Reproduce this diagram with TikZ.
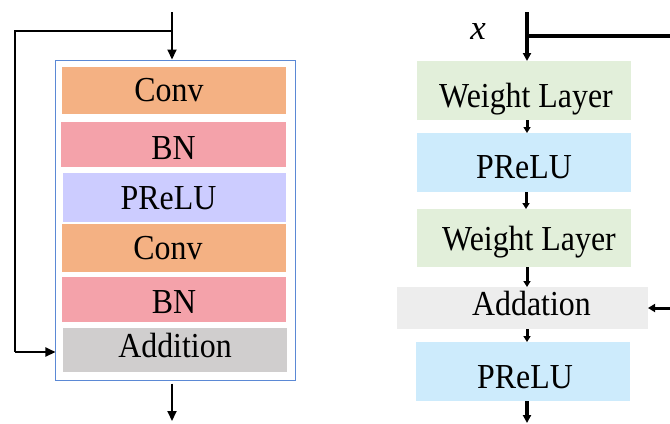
\documentclass[tikz,border=0pt]{standalone}
\usepackage{fontspec}
\setmainfont{Liberation Serif}
\usetikzlibrary{arrows.meta}

\definecolor{convc}{HTML}{F4B183}
\definecolor{bnc}{HTML}{F4A2AA}
\definecolor{preluL}{HTML}{CCCCFF}
\definecolor{addc}{HTML}{D0CECE}
\definecolor{wlc}{HTML}{E2EFDA}
\definecolor{preluR}{HTML}{CDEBFC}
\definecolor{addnc}{HTML}{EDEDED}
\definecolor{framec}{RGB}{91,137,213}

% slightly tall lettering
\newcommand{\tallt}[2][0bp]{\hspace*{#1}\scalebox{1}[1.1]{#2}}

\tikzset{
  blk/.style={rectangle, inner sep=0pt, outer sep=0pt, text=black,
    font=\fontsize{32}{36}\selectfont, text depth=0pt},
  base/.style={text height=#1},
  lblk/.style={blk, minimum width=224bp},
  rblk/.style={blk, minimum width=214bp},
  larrow/.style={line width=2bp, -{Triangle[length=10bp,width=9bp]}},
  rarrow/.style={line width=3.5bp, -{Triangle[length=8bp,width=8bp]}},
  sarrow/.style={line width=3bp, -{Triangle[length=6bp,width=7bp]}},
}

\begin{document}
\begin{tikzpicture}[x=1bp, y=-1bp]
\useasboundingbox (0,0) rectangle (670,423);

% ---------- left: residual block with BN ----------
\node[draw=framec, line width=1bp, rectangle, inner sep=0pt,
      minimum width=239bp, minimum height=320bp] (frame) at (175.5,220) {};
\node[lblk, fill=convc,  minimum height=47bp, base=21bp] (conv1) at (174,90.5)  {\tallt[-10bp]{Conv}};
\node[lblk, fill=bnc,    minimum height=45bp, minimum width=225bp, base=29.6bp] (bn1) at (173.5,144.5) {\tallt{BN}};
\node[lblk, fill=preluL, minimum height=49bp, minimum width=223bp, base=23.6bp] (act) at (174.5,197.5) {\tallt[-12bp]{PReLU}};
\node[lblk, fill=convc,  minimum height=48bp, base=22bp] (conv2) at (174,248)  {\tallt[-12bp]{Conv}};
\node[lblk, fill=bnc,    minimum height=45bp, base=27.6bp] (bn2) at (174,299.5) {\tallt{BN}};
\node[lblk, fill=addc,   minimum height=44bp, base=14.6bp] (add) at (175,350)   {\tallt{Addition}};

\coordinate (lin)  at (172,12);
\coordinate (lsplit) at (172,31);
\coordinate (lcorner) at (15,31);
\coordinate (lout) at (172,421);

\draw[larrow] (lin) -- (lin |- frame.north);
\draw[line width=2bp, line join=miter] (lsplit) -- (lcorner) -- (lcorner |- 0,352)
  coordinate (lbend);
\draw[larrow] (lbend) -- (frame.west |- lbend);
\draw[larrow] (lin |- frame.south) ++(0,3) -- (lout);

% ---------- right: residual block with weight layers ----------
\node[rblk, fill=wlc,    minimum height=59bp, base=33bp] (wl1) at (524,90.5)  {\tallt[4bp]{Weight Layer}};
\node[rblk, fill=preluR, minimum height=59bp, base=31.6bp] (pr1) at (524,162.5) {\tallt{PReLU}};
\node[rblk, fill=wlc,    minimum height=58bp, base=24bp] (wl2) at (524,238)   {\tallt[10bp]{Weight Layer}};
\node[blk,  fill=addnc,  minimum width=251bp, minimum height=42bp, base=15.4bp] (addn) at (522.5,308) {\tallt[18bp]{Addation}};
\node[rblk, fill=preluR, minimum height=59bp, base=33.6bp] (pr2) at (523,371.5) {\tallt[4bp]{PReLU}};

\node[font=\fontsize{35}{40}\selectfont\itshape, inner sep=0pt, anchor=base] (xlab) at (478,39) {x};

\coordinate (rin) at (527,12);
\coordinate (rskip) at (526,36);
\coordinate (redge) at (670,36);
\coordinate (rback) at (670,308);
\coordinate (rout) at (527,423);

\draw[rarrow] (rin) -- (rin |- wl1.north);
\draw[line width=4.5bp] (rskip) -- (redge);
\draw[sarrow] (rin |- wl1.south) -- (rin |- pr1.north);
\draw[sarrow] (rin |- pr1.south) ++(-1,0) -- ([xshift=-1bp]rin |- wl2.north);
\draw[sarrow] (rin |- wl2.south) -- (rin |- addn.north);
\draw[sarrow] (rin |- addn.south) -- (rin |- pr2.north);
\draw[line width=3bp, -{Triangle[length=7bp,width=8bp]}] (rback) -- (addn.east |- rback);
\draw[rarrow] (rin |- pr2.south) -- (rout);
\end{tikzpicture}
\end{document}
